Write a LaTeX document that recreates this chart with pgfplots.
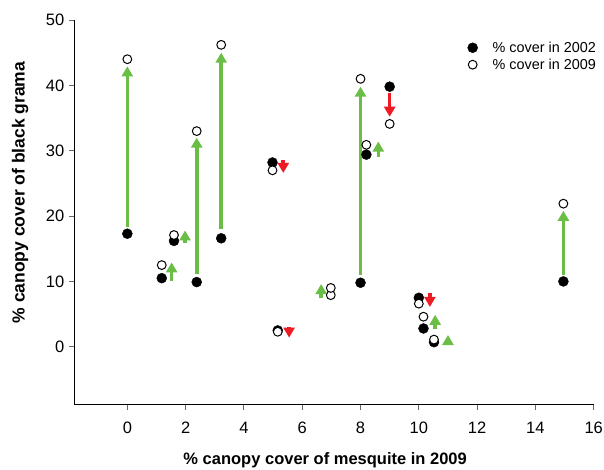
\documentclass[border=0pt]{standalone}
\usepackage{fontspec}
\setmainfont{Liberation Sans}
\usepackage{pgfplots}
\usepackage{pgfplotstable}
\pgfplotsset{compat=1.18}
\usetikzlibrary{arrows.meta}
\definecolor{upgreen}{RGB}{106,189,69}
\definecolor{downred}{RGB}{237,28,36}

% mesquite cover 2009, black grama cover 2002 and 2009
\pgfplotstableread{
x     y02   y09
0     17.3  44.0
1.18  10.5  12.5
1.6   16.2  17.1
2.38   9.9  33.0
3.22  16.6  46.2
4.98  28.2  27.0
5.16   2.5   2.3
8.0    9.8  41.0
8.2   29.4  30.9
9.0   39.8  34.1
10.0   7.5   6.6
10.16  2.8   4.6
10.52  0.7   1.1
14.96 10.0  21.9
}\cover

% the site at x=7 is drawn with two open circles
\pgfplotstableread{
x     y02   y09
6.98   7.9   9.0
}\coverseven

% arrows: start and change
\pgfplotstableread{
x     y     dy
0     18.3  24.6
2.38  11.2  20.8
3.22  18.0  27.0
8.0   11.0  28.8
14.96 11.0   9.8
1.52  10.0   2.9
1.98  15.9   1.9
6.65   7.4   2.2
8.61  29.1   2.3
10.56  2.7   2.2
11.0   0.3   1.5
}\gains

\pgfplotstableread{
x     y     dy
5.35  28.6  -2.0
5.55   3.1  -1.7
9.0   38.9  -3.7
10.38  8.2  -2.1
}\losses

\begin{document}
\begin{tikzpicture}
\begin{axis}[
  name=ax,
  scale only axis,
  width=519.4pt, height=384.3pt,
  xmin=-1.82, xmax=16, ymin=-8.8, ymax=50,
  axis x line=bottom, axis y line=left,
  axis line style={-, line width=0.9pt},
  xtick={0,2,...,16}, ytick={0,10,...,50},
  tick align=outside, major tick length=5.5pt,
  tick style={line width=0.9pt, color=black!60},
  /pgf/number format/assume math mode=true,
  ticklabel style={font=\fontsize{16.5}{18}\selectfont},
  xticklabel style={yshift=-9pt},
  yticklabel style={xshift=-1pt},
  xlabel={\% canopy cover of mesquite in 2009},
  ylabel={\% canopy cover of black grama},
  xlabel style={font=\fontsize{16.5}{18}\selectfont\bfseries,
    at={(axis description cs:0.483,-0.146)}, anchor=center},
  ylabel style={font=\fontsize{17.5}{19}\selectfont\bfseries,
    at={(axis description cs:-0.1045,0.551)}, anchor=center},
  legend style={draw=none, fill=none, font=\fontsize{14.4}{16}\selectfont,
    at={(rel axis cs:0.757,0.949)}, anchor=north west,
    row sep=1pt, inner sep=0pt,
    /tikz/every odd column/.append style={column sep=13pt}},
  legend cell align=left,
  clip=false,
]
  \addplot[forget plot, no markers, upgreen, line width=3.6pt,
    -{Triangle[length=10pt, width=11pt]},
    quiver={u=0, v=\thisrow{dy}}] table[x=x, y=y] {\gains};
  \addplot[forget plot, no markers, downred, line width=3.6pt,
    -{Triangle[length=10pt, width=11pt]},
    quiver={u=0, v=\thisrow{dy}}] table[x=x, y=y] {\losses};

  \addplot[only marks, mark=*, mark size=5pt, black]
    table[x=x, y=y02] {\cover};
  \addlegendentry{\% cover in 2002}
  \addplot[only marks, mark=*, mark size=4.4pt, draw=black, fill=white,
    line width=1pt]
    table[x=x, y=y09] {\cover};
  \addlegendentry{\% cover in 2009}
  \addplot[forget plot, only marks, mark=*, mark size=4.4pt, draw=black,
    fill=white, line width=1pt] table[x=x, y=y02] {\coverseven};
  \addplot[forget plot, only marks, mark=*, mark size=4.4pt, draw=black,
    fill=white, line width=1pt] table[x=x, y=y09] {\coverseven};
\end{axis}
\pgfresetboundingbox
\useasboundingbox ([shift={(-74.3pt,-65.7pt)}]ax.south west)
  rectangle ([shift={(10.3pt,20pt)}]ax.north east);
\end{tikzpicture}
\end{document}
